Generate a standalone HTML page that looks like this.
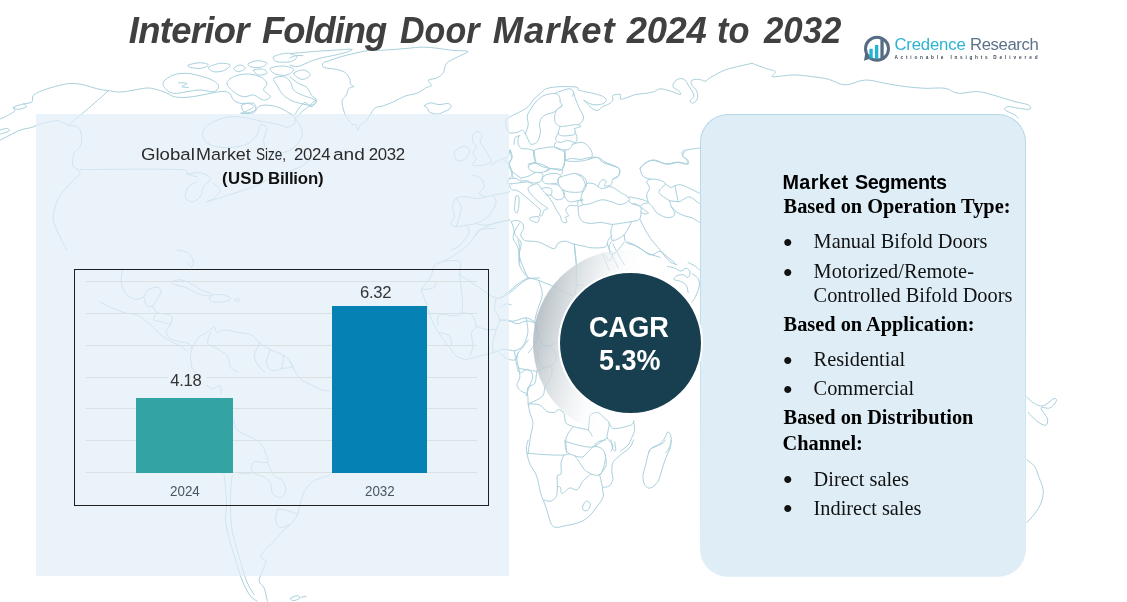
<!DOCTYPE html>
<html lang="en">
<head>
<meta charset="utf-8">
<title>Interior Folding Door Market 2024 to 2032</title>
<style>
html,body{margin:0;padding:0;background:#fff;}
body{width:1127px;height:602px;position:relative;overflow:hidden;font-family:"Liberation Sans",sans-serif;}
h1,h2,h3,p,ul,li{margin:0;padding:0;font-weight:normal;}
.t{position:absolute;white-space:nowrap;margin:0;padding:0;}
.t span{position:absolute;top:0;}
#map{position:absolute;left:0;top:0;width:1127px;height:602px;}
#leftpanel{position:absolute;left:35.6px;top:114.4px;width:473.4px;height:461.4px;background:rgba(226,238,248,0.68);}
#chart{position:absolute;left:74px;top:269px;width:413px;height:235px;border:1px solid #1f1f1f;}
.grid{position:absolute;left:86px;width:391px;height:1px;background:#dbe0e3;}
.bar{position:absolute;}
#v1,#v2{background:#ebf3fa;}
#ring{position:absolute;left:533.2px;top:249.7px;width:186.6px;height:186.6px;border-radius:50%;
  background:linear-gradient(104deg, rgba(160,172,180,.92) 0%, rgba(172,183,190,.9) 7%, rgba(194,202,207,.86) 15%, rgba(214,220,224,.8) 23%, rgba(232,236,238,.7) 31%, rgba(246,248,249,.5) 39%, rgba(255,255,255,0) 48%);}
#disc{position:absolute;left:558.3px;top:271.3px;width:140.4px;height:140px;border-radius:50%;background:#183f50;border:2.4px solid #fff;}
#rightpanel{position:absolute;left:700.3px;top:114px;width:325.5px;height:462.6px;border-radius:28px;background:#deedf6;box-sizing:border-box;border:1px solid transparent;
  background:linear-gradient(#deedf6,#deedf6) padding-box, linear-gradient(180deg,#b4d7e7 0%,#c4e0ec 50%,#e3f0f7 100%) border-box;}
.bul{position:absolute;left:782.4px;font:30px/1 "Liberation Serif",serif;color:#111;}
</style>
</head>
<body>
<svg id="map" viewBox="0 0 1127 602" fill="none" stroke="#a8d0dd" stroke-width="1" stroke-linejoin="round" stroke-linecap="round">
<path d="M0.0 119.1C1.2 118.5 4.8 117.1 7.3 115.7C9.8 114.3 14.0 112.1 15.0 110.7C16.0 109.3 12.1 108.5 13.3 107.4C14.6 106.3 19.6 104.9 22.7 104.1C25.7 103.2 29.9 103.5 31.7 102.1C33.5 100.6 31.5 97.3 33.4 95.4C35.2 93.4 38.4 92.0 42.7 90.4C47.0 88.7 54.6 86.5 59.4 85.4C64.2 84.2 67.6 83.4 71.7 83.4C75.9 83.3 79.9 84.1 84.1 85.0C88.3 85.9 92.7 87.8 96.8 88.7C100.8 89.7 104.4 90.2 108.4 90.7C112.4 91.3 116.5 92.2 120.8 92.0C125.1 91.9 129.8 90.7 134.1 90.0C138.5 89.4 143.1 88.1 146.8 88.0C150.5 87.9 152.9 88.6 156.2 89.4C159.4 90.2 163.2 91.5 166.2 92.7C169.2 93.9 170.8 95.9 174.2 96.7C177.5 97.5 181.8 97.6 186.2 97.4C190.5 97.2 195.6 96.2 200.2 95.4C204.8 94.6 209.5 93.4 213.5 92.7C217.6 92.0 221.4 91.2 224.2 91.4C227.0 91.6 228.7 92.6 230.2 94.0C231.8 95.5 231.8 98.5 233.6 100.1C235.3 101.6 238.4 102.8 240.9 103.4C243.4 103.9 246.5 102.8 248.6 103.4C250.7 103.9 254.1 105.3 253.6 106.7C253.0 108.1 247.4 110.6 245.2 111.7C243.1 112.8 239.5 113.2 240.9 113.4C242.3 113.6 250.6 113.8 253.6 112.7C256.5 111.6 256.4 108.0 258.6 106.7C260.8 105.4 263.6 104.9 266.9 105.1C270.3 105.2 275.0 106.1 278.6 107.4C282.2 108.7 285.8 110.9 288.6 112.7C291.4 114.6 294.5 116.5 295.3 118.4C296.1 120.3 294.9 122.6 293.6 124.1C292.3 125.6 288.6 126.9 287.6 127.4 M0.0 140.1C1.7 139.3 6.7 136.8 10.0 135.1C13.3 133.4 16.4 131.4 20.0 130.1C23.6 128.8 28.4 128.4 31.7 127.4C35.0 126.4 37.0 125.0 40.0 124.1C43.1 123.1 47.0 122.3 50.1 121.7C53.1 121.2 55.3 120.2 58.4 120.7C61.5 121.3 65.1 124.0 68.4 125.1C71.7 126.2 76.2 125.4 78.4 127.4C80.6 129.5 81.5 134.2 81.7 137.4C82.0 140.6 81.4 144.1 80.1 146.8C78.8 149.4 75.3 150.4 74.1 153.4C72.9 156.5 72.0 162.3 72.7 165.1C73.5 167.9 77.2 168.6 78.4 170.1C79.6 171.6 79.8 173.5 80.1 174.1 M108.4 90.7C105.1 93.7 95.1 102.7 88.4 108.4C81.7 114.1 71.7 122.3 68.4 125.1 M0.0 130.1C1.1 129.8 5.1 128.3 6.7 128.4C8.2 128.5 10.0 129.9 9.3 130.7C8.7 131.6 4.2 132.9 2.7 133.4C1.1 134.0 0.4 134.0 0.0 134.1 M13.3 107.4C14.2 107.7 16.1 109.5 18.4 109.4C20.6 109.3 25.9 107.6 26.7 106.7C27.5 105.8 23.9 104.5 23.4 104.1 M80.1 169.5C96.2 169.5 159.0 168.7 176.8 169.5C194.6 170.2 183.5 172.9 186.9 174.1C190.2 175.3 195.2 176.3 196.9 176.8 M80.1 174.1C78.7 175.4 74.8 178.6 71.7 181.8C68.7 185.0 64.5 189.3 61.7 193.5C58.9 197.6 56.4 202.4 55.1 206.8C53.7 211.3 52.8 215.7 53.4 220.2C53.9 224.6 56.7 229.6 58.4 233.5C60.1 237.4 62.0 240.8 63.4 243.5C64.8 246.3 66.2 248.8 66.7 249.9 M186.9 174.1C189.1 173.9 196.3 172.1 200.2 172.8C204.1 173.5 209.7 176.1 210.2 178.5C210.8 180.8 205.2 183.7 203.5 186.8C201.9 189.9 202.1 194.3 200.2 196.8C198.3 199.3 194.4 201.8 191.9 201.8C189.4 201.8 185.7 199.3 185.2 196.8C184.6 194.3 186.6 189.3 188.5 186.8C190.5 184.3 195.5 182.6 196.9 181.8 M213.5 183.5C214.7 184.6 220.2 187.6 220.2 190.1C220.2 192.6 215.8 196.5 213.5 198.5C211.3 200.4 203.5 202.7 206.9 201.8C210.2 201.0 225.8 196.0 233.6 193.5C241.4 191.0 248.0 189.0 253.6 186.8C259.1 184.6 261.9 182.4 266.9 180.1C271.9 177.9 278.1 175.7 283.6 173.5C289.2 171.2 295.9 169.0 300.3 166.8C304.7 164.6 308.6 161.2 310.3 160.1 M287.6 127.4C285.8 126.9 280.9 125.0 276.9 124.1C272.9 123.1 268.3 122.7 263.6 121.7C258.9 120.8 254.1 119.2 248.6 118.4C243.0 117.6 236.1 116.2 230.2 116.7C224.4 117.3 218.0 119.5 213.5 121.7C209.1 124.0 205.1 127.1 203.5 130.1C202.0 133.0 202.5 136.8 204.2 139.4C205.9 142.1 209.2 144.8 213.5 146.1C217.9 147.4 224.7 147.8 230.2 147.4C235.8 147.1 242.5 146.2 246.9 144.1C251.4 142.0 254.7 138.3 256.9 135.1C259.1 131.9 258.6 126.2 260.3 125.1C261.9 124.0 266.4 125.9 266.9 128.4C267.5 130.9 263.6 136.5 263.6 140.1C263.6 143.7 264.7 147.9 266.9 150.1C269.2 152.3 273.1 153.4 276.9 153.4C280.8 153.4 286.4 152.3 290.3 150.1C294.2 147.9 298.4 143.4 300.3 140.1C302.2 136.8 302.8 133.7 302.0 130.1C301.1 126.5 296.4 120.3 295.3 118.4 M295.3 118.4C296.4 117.3 299.5 114.0 302.0 111.7C304.5 109.5 308.1 107.0 310.3 105.1C312.5 103.1 314.5 100.9 315.3 100.1 M163.5 81.7C164.9 79.5 169.6 76.4 173.5 75.0C177.4 73.6 182.4 73.2 186.9 73.4C191.3 73.5 195.8 74.8 200.2 76.0C204.6 77.2 210.5 78.9 213.5 80.7C216.6 82.5 218.6 84.9 218.6 86.7C218.6 88.5 216.6 91.2 213.5 91.7C210.5 92.3 204.6 90.0 200.2 90.0C195.8 90.0 191.3 91.2 186.9 91.7C182.4 92.3 177.1 93.9 173.5 93.4C169.9 92.8 166.8 90.3 165.2 88.4C163.5 86.4 162.1 83.9 163.5 81.7 M178.5 82.7C179.9 82.8 186.3 82.7 186.9 83.4C187.4 84.0 181.6 86.0 181.8 86.7C182.1 87.4 187.4 87.3 188.5 87.4 M226.9 83.4C226.9 80.9 230.2 78.3 233.6 76.7C236.9 75.1 242.5 74.0 246.9 74.0C251.4 74.0 256.9 75.1 260.3 76.7C263.6 78.3 266.4 81.1 266.9 83.4C267.5 85.6 263.0 87.8 263.6 90.0C264.2 92.3 270.3 95.0 270.3 96.7C270.3 98.4 266.4 100.3 263.6 100.1C260.8 99.8 256.9 95.6 253.6 95.0C250.3 94.5 246.9 97.3 243.6 96.7C240.2 96.2 236.3 93.9 233.6 91.7C230.8 89.5 226.9 85.9 226.9 83.4 M188.5 65.0C190.2 64.2 196.9 62.7 200.2 62.7C203.5 62.7 208.5 64.1 208.5 65.0C208.5 66.0 203.3 68.0 200.2 68.4C197.1 68.7 192.1 67.9 190.2 67.4C188.2 66.8 186.9 65.8 188.5 65.0 M208.5 67.4C209.7 66.0 216.6 63.7 220.2 63.3C223.8 63.0 229.7 63.8 230.2 65.0C230.8 66.2 226.3 69.6 223.6 70.7C220.8 71.8 216.0 72.2 213.5 71.7C211.0 71.1 207.4 68.7 208.5 67.4 M233.6 68.4C233.8 67.2 238.3 65.0 240.2 65.0C242.2 65.0 245.5 67.2 245.2 68.4C245.0 69.5 240.5 71.7 238.6 71.7C236.6 71.7 233.3 69.5 233.6 68.4 M248.6 63.3C250.0 62.3 255.5 60.7 258.6 60.7C261.7 60.7 266.7 62.2 266.9 63.3C267.2 64.5 263.0 66.8 260.3 67.4C257.5 67.9 252.2 67.4 250.3 66.7C248.3 66.0 247.2 64.3 248.6 63.3 M253.6 70.0C254.4 69.1 261.4 68.8 263.6 69.4C265.8 69.9 267.8 72.4 266.9 73.4C266.1 74.3 260.8 75.6 258.6 75.0C256.4 74.5 252.8 71.0 253.6 70.0 M273.6 56.7C275.3 55.3 283.1 53.3 287.0 53.3C290.8 53.3 296.4 55.3 297.0 56.7C297.5 58.1 293.6 60.8 290.3 61.7C287.0 62.5 279.7 62.5 276.9 61.7C274.2 60.8 271.9 58.1 273.6 56.7 M270.3 68.4C271.7 67.0 279.7 65.8 283.6 66.0C287.5 66.2 293.1 67.9 293.6 69.4C294.2 70.9 290.0 74.2 287.0 75.0C283.9 75.8 278.1 75.1 275.3 74.0C272.5 72.9 268.9 69.7 270.3 68.4 M241.9 105.1C243.3 103.5 251.4 102.6 253.6 103.4C255.8 104.2 256.6 108.5 255.3 110.1C253.9 111.6 247.5 113.6 245.2 112.7C243.0 111.9 240.5 106.6 241.9 105.1 M273.6 78.4C274.7 77.0 280.8 76.1 283.6 76.7C286.4 77.2 288.6 79.5 290.3 81.7C292.0 83.9 291.7 87.8 293.6 90.0C295.6 92.3 298.4 93.4 302.0 95.0C305.6 96.7 313.6 98.4 315.3 100.1C317.0 101.7 314.5 104.5 312.0 105.1C309.5 105.6 303.9 104.2 300.3 103.4C296.7 102.6 293.3 101.7 290.3 100.1C287.2 98.4 284.2 95.9 281.9 93.4C279.7 90.9 278.3 87.5 276.9 85.0C275.6 82.5 272.5 79.8 273.6 78.4 M293.6 73.4C293.9 71.8 300.9 69.7 303.6 70.0C306.4 70.3 310.6 73.5 310.3 75.0C310.0 76.6 304.7 79.6 302.0 79.4C299.2 79.1 293.3 74.9 293.6 73.4 M472.8 135.1C473.6 133.4 476.2 131.7 477.8 131.7C479.3 131.7 481.7 133.4 482.1 135.1C482.5 136.8 479.7 139.5 480.1 141.8C480.5 144.0 482.9 145.9 484.4 148.4C486.0 150.9 488.3 154.5 489.4 156.8C490.6 159.0 492.2 160.4 491.1 161.8C490.0 163.2 485.8 164.6 482.8 165.1C479.7 165.7 473.9 166.2 472.8 165.1C471.7 164.0 476.1 160.4 476.1 158.4C476.1 156.5 472.8 155.4 472.8 153.4C472.8 151.5 476.1 148.7 476.1 146.8C476.1 144.8 473.3 143.7 472.8 141.8C472.2 139.8 471.9 136.8 472.8 135.1 M456.1 150.1C457.6 148.6 461.2 146.1 463.4 146.1C465.6 146.1 469.0 148.0 469.4 150.1C469.9 152.2 468.0 156.7 466.1 158.4C464.1 160.2 459.7 161.3 457.7 160.8C455.8 160.2 454.7 156.9 454.4 155.1C454.1 153.3 454.6 151.6 456.1 150.1 M491.1 165.1C492.5 164.3 496.7 161.5 499.5 160.1C502.2 158.7 506.1 158.4 507.8 156.8C509.5 155.1 509.2 151.2 509.5 150.1 M472.8 175.1C474.2 175.7 479.2 176.5 481.1 178.5C483.1 180.4 484.7 184.3 484.4 186.8C484.2 189.3 479.2 191.8 479.4 193.5C479.7 195.1 483.9 196.5 486.1 196.8C488.3 197.1 490.0 195.7 492.8 195.1C495.6 194.6 500.0 194.0 502.8 193.5C505.6 192.9 508.4 192.1 509.5 191.8 M486.1 196.8C484.4 197.1 479.4 198.5 476.1 198.5C472.8 198.5 469.4 196.8 466.1 196.8C462.8 196.8 458.3 196.8 456.1 198.5C453.9 200.2 453.0 203.8 452.7 206.8C452.5 209.9 454.7 214.1 454.4 216.8C454.1 219.6 450.8 221.8 451.1 223.5C451.4 225.2 453.6 226.6 456.1 226.8C458.6 227.1 462.8 225.7 466.1 225.2C469.4 224.6 472.8 224.6 476.1 223.5C479.4 222.4 483.3 220.7 486.1 218.5C488.9 216.3 491.1 212.9 492.8 210.2C494.5 207.4 496.1 204.3 496.1 201.8C496.1 199.3 493.3 196.3 492.8 195.1 M456.1 198.5C456.9 199.9 460.5 203.8 461.1 206.8C461.6 209.9 460.3 213.5 459.4 216.8C458.6 220.2 456.6 225.2 456.1 226.8 M466.1 225.2C466.6 226.3 469.7 229.3 469.4 231.8C469.1 234.4 466.4 237.7 464.4 240.2C462.5 242.7 460.0 245.3 457.7 246.9C455.5 248.5 452.2 249.4 451.1 249.9 M476.1 223.5C477.8 223.8 482.2 225.5 486.1 225.2C490.0 224.9 495.6 222.7 499.5 221.8C503.3 221.0 507.8 220.4 509.5 220.2 M505.6 119.8C506.6 119.2 508.8 117.5 511.3 116.1C513.8 114.7 517.9 113.0 520.7 111.4C523.5 109.8 526.2 108.6 528.2 106.7C530.3 104.8 530.9 102.3 532.9 100.1C535.0 97.9 538.2 95.4 540.4 93.5C542.6 91.6 543.4 89.9 546.1 88.8C548.8 87.7 553.1 87.3 556.4 86.9C559.7 86.6 562.4 86.5 565.8 86.6C569.3 86.6 575.1 86.8 577.1 87.3C579.2 87.8 576.8 89.0 578.1 89.8C579.3 90.5 582.0 91.0 584.7 91.6C587.3 92.3 591.1 92.7 594.1 93.5C597.0 94.3 600.5 95.2 602.5 96.3C604.6 97.4 606.3 98.8 606.3 100.1C606.3 101.4 604.6 103.1 602.5 103.9C600.5 104.6 596.4 105.0 594.1 104.8C591.7 104.6 590.1 103.7 588.4 102.9C586.7 102.1 583.7 99.8 583.7 100.1C583.7 100.4 587.0 103.4 588.4 104.8C589.8 106.2 590.6 107.6 592.2 108.6C593.7 109.5 596.1 110.8 597.8 110.4C599.5 110.1 600.6 107.8 602.5 106.7C604.4 105.6 607.4 105.0 609.1 103.9C610.8 102.8 612.2 101.5 612.9 100.1C613.5 98.7 611.6 96.3 612.9 95.4C614.1 94.5 619.1 93.8 620.4 94.5C621.6 95.1 619.1 98.7 620.4 99.2C621.6 99.6 625.4 98.1 627.9 97.3C630.4 96.5 632.6 95.1 635.4 94.5C638.3 93.8 641.7 94.0 644.8 93.5C648.0 93.0 651.7 92.4 654.3 91.6C656.8 90.8 657.4 89.0 659.9 88.8C662.4 88.7 666.5 89.9 669.3 90.7C672.1 91.5 674.9 92.9 676.8 93.5C678.7 94.1 680.3 94.9 680.6 94.5C680.9 94.0 680.0 91.9 678.7 90.7C677.5 89.4 673.7 88.5 673.1 86.9C672.4 85.4 673.7 82.7 674.9 81.3C676.2 79.9 678.9 78.6 680.6 78.5C682.3 78.3 684.0 79.2 685.3 80.3C686.5 81.4 687.0 83.3 688.1 85.0C689.2 86.8 690.9 88.8 691.9 90.7C692.8 92.6 694.1 94.6 693.8 96.3C693.4 98.1 690.0 99.9 690.0 101.0C690.0 102.1 692.5 103.4 693.8 102.9C695.0 102.4 697.0 100.3 697.5 98.2C698.0 96.2 697.5 92.9 696.6 90.7C695.6 88.5 692.7 86.8 691.9 85.0C691.1 83.3 690.6 81.3 691.9 80.3C693.1 79.4 697.2 79.2 699.4 79.4C701.6 79.6 703.5 81.4 705.0 81.3C706.6 81.1 707.6 79.2 708.8 78.5C710.0 77.7 711.5 76.9 712.0 76.6 M505.6 119.8C505.8 121.3 505.8 126.1 506.6 128.3C507.4 130.5 508.5 132.4 510.3 133.0C512.2 133.6 515.8 132.5 517.9 132.1C519.9 131.6 521.3 129.9 522.6 130.2C523.8 130.5 524.5 132.4 525.4 134.0C526.3 135.5 527.3 137.9 528.2 139.6C529.2 141.3 529.6 143.8 531.0 144.3C532.4 144.8 535.3 143.7 536.7 142.4C538.1 141.2 538.9 138.8 539.5 136.8C540.1 134.7 540.4 132.2 540.4 130.2C540.4 128.2 539.3 126.6 539.5 124.6C539.7 122.5 540.1 119.7 541.4 118.0C542.6 116.2 545.0 115.1 547.0 114.2C549.1 113.3 551.7 113.3 553.6 112.3C555.5 111.4 556.9 109.7 558.3 108.6C559.7 107.5 561.8 106.8 562.1 105.7C562.4 104.6 560.5 102.6 560.2 102.0 M562.1 105.7C561.1 106.5 557.7 108.6 556.4 110.4C555.2 112.3 554.7 115.0 554.6 117.0C554.4 119.1 554.6 121.1 555.5 122.7C556.4 124.2 557.8 126.0 560.2 126.4C562.5 126.9 566.8 125.8 569.6 125.5C572.4 125.2 575.2 124.4 577.1 124.6C579.0 124.7 581.2 125.8 580.9 126.4C580.6 127.1 576.2 128.0 575.2 128.3 M525.4 134.0C525.9 132.4 527.9 127.5 528.2 124.6C528.5 121.6 526.8 118.8 527.3 116.1C527.7 113.4 529.5 111.1 531.0 108.6C532.6 106.1 534.5 103.2 536.7 101.0C538.9 98.8 541.2 96.6 544.2 95.4C547.2 94.1 552.0 93.4 554.6 93.5C557.1 93.7 558.3 94.9 559.3 96.3C560.2 97.7 560.0 101.0 560.2 102.0 M554.6 93.5C555.8 93.0 559.6 91.5 562.1 90.7C564.6 89.9 567.7 88.7 569.6 88.8C571.5 89.0 572.9 90.4 573.4 91.6C573.8 92.9 572.6 95.6 572.4 96.3 M573.4 91.6C573.7 92.7 574.3 95.6 575.2 98.2C576.2 100.9 577.6 104.3 579.0 107.6C580.4 110.9 583.7 115.1 583.7 118.0C583.7 120.8 579.8 123.5 579.0 124.6 M560.2 126.4C559.9 127.5 558.0 131.4 558.3 133.0C558.6 134.6 559.6 135.5 562.1 135.8C564.6 136.2 571.2 135.5 573.4 134.9C575.6 134.3 575.1 133.2 575.2 132.1C575.4 131.0 574.5 128.9 574.3 128.3 M558.3 133.0C557.8 134.1 555.2 138.0 555.5 139.6C555.8 141.2 558.2 142.3 560.2 142.4C562.2 142.6 565.2 140.5 567.7 140.5C570.2 140.5 573.7 142.9 575.2 142.4C576.8 142.0 577.1 139.4 577.1 137.7C577.1 136.0 575.6 133.0 575.2 132.1 M555.5 142.4C555.3 143.2 553.5 145.9 554.6 147.1C555.6 148.4 559.6 149.6 562.1 149.9C564.6 150.3 567.9 149.9 569.6 149.0C571.3 148.1 572.0 145.1 572.4 144.3 M572.4 144.3C574.1 144.0 579.8 141.6 582.8 142.4C585.7 143.2 588.7 146.8 590.3 149.0C591.9 151.2 592.5 153.9 592.2 155.6C591.9 157.3 590.6 158.4 588.4 159.4C586.2 160.3 582.8 161.1 579.0 161.2C575.2 161.4 568.2 161.9 565.8 160.3C563.5 158.7 565.1 153.2 564.9 151.8 M533.9 150.9C535.1 148.5 539.8 148.7 543.3 148.1C546.7 147.4 551.1 146.5 554.6 147.1C558.0 147.8 562.2 149.6 564.0 151.8C565.7 154.0 565.2 157.3 564.9 160.3C564.6 163.3 564.1 168.3 562.1 169.7C560.0 171.1 555.8 169.2 552.7 168.8C549.5 168.3 546.1 168.0 543.3 166.9C540.4 165.8 537.3 164.8 535.7 162.2C534.2 159.5 532.6 153.2 533.9 150.9 M588.4 159.4C590.0 159.0 595.0 157.0 597.8 157.5C600.6 157.9 602.5 160.8 605.3 162.2C608.2 163.6 612.4 164.7 614.7 165.9C617.1 167.2 618.8 168.0 619.5 169.7C620.1 171.4 619.6 174.7 618.5 176.3C617.4 177.9 613.8 178.6 612.9 179.1 M640.1 167.8C641.6 166.7 645.9 162.5 648.6 161.2C651.3 160.0 653.3 159.8 656.1 160.3C659.0 160.8 662.1 163.7 665.5 164.1C669.0 164.4 673.4 162.2 676.8 162.2C680.3 162.2 684.3 164.4 686.2 164.1C688.1 163.7 688.6 161.5 688.1 160.3C687.6 159.0 684.2 158.1 683.4 156.5C682.6 155.0 680.7 152.3 683.4 150.9C686.1 149.5 696.7 148.5 699.4 148.1 M518.8 135.8C518.7 136.9 517.6 140.4 517.9 142.4C518.2 144.5 519.0 147.0 520.7 148.1C522.4 149.2 526.0 148.5 528.2 149.0C530.4 149.5 532.9 150.6 533.9 150.9 M514.1 144.3C514.3 143.2 514.1 139.1 515.0 137.7C516.0 136.3 519.0 136.2 519.8 135.8 M510.3 150.9C510.5 152.1 511.6 156.2 511.3 158.4C511.0 160.6 508.5 161.9 508.5 164.1C508.5 166.3 510.5 169.2 511.3 171.6C512.1 173.9 512.9 177.1 513.2 178.2 M528.2 164.1 L535.7 162.2 M504.7 160.3 L508.5 164.1 M582.8 191.4C583.7 188.7 584.7 185.1 586.5 183.9C588.4 182.6 591.5 183.1 594.1 183.9C596.6 184.6 598.8 188.1 601.6 188.6C604.4 189.0 607.9 186.1 611.0 186.7C614.1 187.3 617.6 190.6 620.4 192.3C623.2 194.0 626.5 195.6 627.9 197.0C629.3 198.4 630.1 199.5 628.9 200.8C627.6 202.0 623.4 204.4 620.4 204.6C617.4 204.7 614.1 202.5 611.0 201.7C607.9 200.9 605.0 199.5 601.6 199.8C598.1 200.2 593.3 202.8 590.3 203.6C587.3 204.4 585.3 205.2 583.7 204.6C582.1 203.9 581.0 202.0 580.9 199.8C580.7 197.7 581.8 194.0 582.8 191.4 M578.1 206.4 L583.7 204.6 M628.9 200.8C629.3 201.3 629.8 202.7 631.7 203.6C633.6 204.6 638.6 205.0 640.1 206.4C641.7 207.8 641.2 209.9 641.1 212.1C640.9 214.3 640.8 218.0 639.2 219.6C637.6 221.2 634.8 220.9 631.7 221.5C628.5 222.1 623.8 222.9 620.4 223.4C616.9 223.8 614.1 224.5 611.0 224.3C607.9 224.1 605.0 222.6 601.6 222.4C598.1 222.3 593.4 223.5 590.3 223.4C587.2 223.2 584.7 222.7 582.8 221.5C580.9 220.2 579.8 218.3 579.0 215.8C578.2 213.3 578.2 208.0 578.1 206.4 M628.9 197.0C630.0 197.2 633.1 197.5 635.4 198.0C637.8 198.4 640.8 199.1 643.0 199.8C645.2 200.6 648.5 202.0 648.6 202.7C648.8 203.3 645.3 203.0 643.9 203.6C642.5 204.2 640.8 206.0 640.1 206.4 M631.7 203.6C632.6 203.8 635.1 203.5 637.3 204.6C639.5 205.6 643.0 208.8 644.8 210.2C646.7 211.6 648.6 212.4 648.6 213.0C648.6 213.6 646.1 214.1 644.8 214.0C643.6 213.8 641.7 212.4 641.1 212.1 M648.6 202.7C647.7 200.8 646.6 197.7 646.7 195.1C646.9 192.6 649.5 189.8 649.5 187.6C649.5 185.4 646.6 183.4 646.7 182.0C646.9 180.6 648.3 179.5 650.5 179.2C652.7 178.8 657.4 179.3 659.9 180.1C662.4 180.9 665.2 182.6 665.5 183.9C665.9 185.1 662.9 186.2 661.8 187.6C660.7 189.0 658.6 190.8 659.0 192.3C659.3 193.9 661.9 195.6 663.7 197.0C665.4 198.4 668.0 199.2 669.3 200.8C670.6 202.4 670.2 204.2 671.2 206.4C672.1 208.6 675.3 212.1 674.9 214.0C674.6 215.8 671.5 217.4 669.3 217.7C667.1 218.0 664.0 216.8 661.8 215.8C659.6 214.9 657.7 213.6 656.1 212.1C654.6 210.5 653.6 208.0 652.4 206.4C651.1 204.9 649.5 204.6 648.6 202.7 M640.1 168.8C640.9 167.9 642.8 164.6 644.8 163.2C646.9 161.8 649.9 160.5 652.4 160.3C654.9 160.2 657.1 161.6 659.9 162.2C662.7 162.9 666.2 164.1 669.3 164.1C672.4 164.1 675.6 162.2 678.7 162.2C681.8 162.2 686.9 164.6 688.1 164.1C689.4 163.6 687.2 160.8 686.2 159.4C685.3 158.0 682.6 157.1 682.5 155.6C682.3 154.2 684.8 151.7 685.3 150.9 M640.1 168.8C640.6 170.1 641.2 174.6 643.0 176.3C644.7 178.1 649.2 178.7 650.5 179.2 M665.5 183.9C666.5 184.5 669.6 187.3 671.2 187.6C672.7 187.9 673.4 186.2 674.9 185.7C676.5 185.3 678.4 184.5 680.6 184.8C682.8 185.1 685.0 186.2 688.1 187.6C691.2 189.0 697.5 192.3 699.4 193.3 M674.9 185.7C675.3 187.3 676.2 192.5 676.8 195.1C677.5 197.8 677.5 201.1 678.7 201.7C680.0 202.4 682.5 199.7 684.3 198.9C686.2 198.1 687.5 196.2 690.0 197.0C692.5 197.8 697.8 202.5 699.4 203.6 M669.3 200.8 L678.7 201.7 M671.2 206.4C672.1 207.4 674.6 210.5 676.8 212.1C679.0 213.6 681.8 214.9 684.3 215.8C686.9 216.8 689.4 216.6 691.9 217.7C694.4 218.8 698.1 221.6 699.4 222.4 M640.1 219.6C640.9 221.2 643.1 225.9 644.8 229.0C646.6 232.1 648.0 235.0 650.5 238.4C653.0 241.9 657.4 246.9 659.9 249.7C662.4 252.5 663.0 253.1 665.5 255.3C668.0 257.5 673.4 261.6 674.9 262.9 M631.7 221.5C630.4 223.7 627.3 231.5 624.2 234.7C621.0 237.8 615.1 240.9 612.9 240.3C610.7 239.7 611.0 233.6 611.0 230.9C611.0 228.2 612.6 225.4 612.9 224.3 M624.2 234.7C624.5 235.9 624.2 240.3 626.0 242.2C627.9 244.1 631.7 244.1 635.4 245.9C639.2 247.8 644.5 251.6 648.6 253.5C652.7 255.3 658.0 256.6 659.9 257.2 M612.9 240.3C612.2 241.2 609.4 243.6 609.1 245.9C608.8 248.3 609.7 253.5 611.0 254.4C612.2 255.3 614.4 253.6 616.6 251.6C618.8 249.5 622.9 243.7 624.2 242.2 M511.3 221.5C512.2 221.3 515.0 220.2 516.9 220.5C518.8 220.9 521.5 222.0 522.6 223.4C523.7 224.8 523.8 227.1 523.5 229.0C523.2 230.9 520.5 232.8 520.7 234.7C520.8 236.5 522.6 239.2 524.5 240.3C526.3 241.4 529.5 240.9 532.0 241.2C534.5 241.5 537.0 241.4 539.5 242.2C542.0 243.0 544.5 244.8 547.0 245.9C549.5 247.0 552.7 249.2 554.6 248.8C556.4 248.3 556.4 244.4 558.3 243.1C560.2 241.9 563.3 241.1 565.8 241.2C568.3 241.4 570.5 243.3 573.4 244.1C576.2 244.8 579.6 245.3 582.8 245.9C585.9 246.6 588.4 247.7 592.2 247.8C595.9 248.0 602.7 248.1 605.3 246.9C608.0 245.6 607.1 242.2 608.2 240.3C609.3 238.4 611.3 236.4 611.9 235.6 M511.3 221.5C511.8 223.0 513.8 228.1 514.1 230.9C514.4 233.7 512.5 235.6 513.2 238.4C513.8 241.2 516.8 243.7 517.9 247.8C519.0 251.9 519.4 260.4 519.8 262.9 M574.3 244.1C574.5 245.9 574.9 252.2 575.2 255.3C575.6 258.5 576.0 261.6 576.2 262.9 M511.3 183.9C512.5 183.7 516.0 183.2 518.8 182.9C521.6 182.6 525.9 181.7 528.2 182.0C530.6 182.3 532.9 183.9 532.9 184.8C532.9 185.7 528.7 186.2 528.2 187.6C527.7 189.0 528.5 191.1 530.1 193.3C531.7 195.5 535.1 198.6 537.6 200.8C540.1 203.0 543.4 205.2 545.1 206.4C546.9 207.7 548.1 207.7 548.0 208.3C547.8 208.9 545.1 209.1 544.2 210.2C543.3 211.3 543.1 214.0 542.3 214.9C541.5 215.8 539.8 216.6 539.5 215.8C539.2 215.1 541.1 211.9 540.4 210.2C539.8 208.5 537.8 207.4 535.7 205.5C533.7 203.6 530.4 200.8 528.2 198.9C526.0 197.0 524.5 195.6 522.6 194.2C520.7 192.8 518.8 191.2 516.9 190.4C515.0 189.7 512.5 190.4 511.3 189.5C510.0 188.6 509.7 185.6 509.4 184.8 M516.0 196.1C516.6 195.1 518.3 195.3 518.8 197.0C519.3 198.8 519.1 203.8 518.8 206.4C518.5 209.1 517.6 212.4 516.9 213.0C516.2 213.6 515.0 211.9 514.7 210.2C514.4 208.5 514.8 205.0 515.0 202.7C515.3 200.3 515.4 197.0 516.0 196.1 M530.1 217.7C531.4 217.1 537.3 216.0 538.6 216.8C539.8 217.6 538.9 221.8 537.6 222.4C536.4 223.0 532.3 221.3 531.0 220.5C529.8 219.8 528.8 218.3 530.1 217.7 M532.9 184.8C533.7 184.6 536.4 183.4 537.6 183.9C538.9 184.3 539.0 185.9 540.4 187.6C541.9 189.3 544.4 192.2 546.1 194.2C547.8 196.2 549.5 198.1 550.8 199.8C552.0 201.6 552.7 202.8 553.6 204.6C554.6 206.3 555.3 208.3 556.4 210.2C557.5 212.1 559.3 214.0 560.2 215.8C561.1 217.7 561.0 220.4 562.1 221.5C563.2 222.6 566.2 223.2 566.8 222.4C567.4 221.6 565.5 217.9 565.8 216.8C566.2 215.7 568.7 216.9 568.7 215.8C568.7 214.7 565.7 211.9 565.8 210.2C566.0 208.5 567.7 206.3 569.6 205.5C571.5 204.7 575.7 206.3 577.1 205.5C578.5 204.7 577.1 201.6 578.1 200.8C579.0 200.0 582.0 200.8 582.8 200.8 M541.4 188.6C542.3 188.4 545.3 187.5 547.0 187.6C548.8 187.8 551.1 188.2 551.7 189.5C552.4 190.8 551.7 194.4 550.8 195.1C549.8 195.9 546.9 194.4 546.1 194.2 M551.7 183.9C552.7 184.0 555.6 183.9 557.4 184.8C559.1 185.7 561.0 187.5 562.1 189.5C563.2 191.5 564.6 195.3 564.0 197.0C563.3 198.8 560.0 199.7 558.3 199.8C556.6 200.0 554.9 198.8 553.6 198.0C552.4 197.2 551.3 195.6 550.8 195.1 M558.3 178.2C559.4 176.5 563.0 176.2 565.8 175.4C568.7 174.6 572.4 173.4 575.2 173.5C578.1 173.7 580.9 174.9 582.8 176.3C584.7 177.7 586.1 180.1 586.5 182.0C587.0 183.9 586.2 186.1 585.6 187.6C585.0 189.2 584.8 190.6 582.8 191.4C580.7 192.2 576.5 192.5 573.4 192.3C570.2 192.2 566.3 191.5 564.0 190.4C561.6 189.3 560.2 187.8 559.3 185.7C558.3 183.7 557.2 179.9 558.3 178.2 M564.0 190.4C564.1 191.5 564.0 195.1 564.9 197.0C565.8 198.9 567.6 201.1 569.6 201.7C571.6 202.4 574.9 201.2 577.1 200.8C579.3 200.4 581.8 199.5 582.8 199.3 M542.3 178.2C542.8 176.8 544.7 175.2 547.0 174.5C549.4 173.7 554.1 173.2 556.4 173.5C558.8 173.8 560.8 175.6 561.1 176.3C561.4 177.1 558.9 177.1 558.3 178.2C557.7 179.3 558.6 182.0 557.4 182.9C556.1 183.9 553.0 183.9 550.8 183.9C548.6 183.9 545.6 183.9 544.2 182.9C542.8 182.0 541.9 179.6 542.3 178.2 M520.7 178.2C521.9 177.9 525.7 177.3 528.2 176.3C530.7 175.4 533.4 173.0 535.7 172.6C538.1 172.1 541.2 172.6 542.3 173.5C543.4 174.5 542.8 176.8 542.3 178.2C541.9 179.6 541.2 181.2 539.5 182.0C537.8 182.8 533.9 183.1 532.0 182.9C530.1 182.8 530.1 181.4 528.2 181.0C526.3 180.7 521.9 181.0 520.7 181.0 M528.2 166.0C529.0 164.7 533.2 163.3 535.7 163.2C538.2 163.0 540.9 164.1 543.3 165.0C545.6 166.0 549.5 167.7 549.8 168.8C550.2 169.9 547.2 171.0 545.1 171.6C543.1 172.3 540.0 172.7 537.6 172.6C535.3 172.4 532.6 171.8 531.0 170.7C529.5 169.6 527.4 167.2 528.2 166.0 M545.1 171.6C545.9 171.2 547.0 169.1 549.8 168.8C552.7 168.5 560.2 168.8 562.1 169.8C564.0 170.7 561.3 173.7 561.1 174.5 M533.9 150.0 L535.7 163.2 M564.9 150.0C564.9 151.7 565.4 157.1 564.9 160.3C564.4 163.6 562.5 168.2 562.1 169.8 M564.9 160.3C566.0 160.0 568.8 158.6 571.5 158.5C574.1 158.3 577.9 159.6 580.9 159.4C583.9 159.2 586.5 157.8 589.4 157.5C592.2 157.2 595.6 156.7 597.8 157.5C600.0 158.3 600.0 160.8 602.5 162.2C605.0 163.6 610.0 164.9 612.9 166.0C615.7 167.1 618.5 167.2 619.5 168.8C620.4 170.4 619.6 173.7 618.5 175.4C617.4 177.1 614.1 177.6 612.9 179.2C611.6 180.7 612.4 183.7 611.0 184.8C609.6 185.9 605.2 186.4 604.4 185.7C603.6 185.1 606.8 182.0 606.3 181.0C605.8 180.1 603.0 179.2 601.6 180.1C600.2 181.0 598.4 185.6 597.8 186.7 M577.1 174.5C577.8 174.8 579.8 175.4 580.9 176.3C582.0 177.3 582.9 178.5 583.7 180.1C584.5 181.7 585.3 184.8 585.6 185.7 M510.3 150.0C510.7 151.3 512.4 155.2 512.2 157.5C512.1 159.9 509.4 161.8 509.4 164.1C509.4 166.5 511.9 169.6 512.2 171.6C512.5 173.7 511.9 175.1 511.3 176.3C510.7 177.6 509.1 178.1 508.5 179.2C507.8 180.3 507.1 182.1 507.5 182.9C508.0 183.7 510.7 183.7 511.3 183.9 M512.2 171.6 L520.7 178.2 M508.5 179.2C509.6 179.0 513.0 177.9 515.0 178.2C517.1 178.5 519.8 180.6 520.7 181.0 M517.9 240.0C518.2 241.3 519.6 244.4 519.8 247.5C519.9 250.7 518.7 255.4 518.8 258.8C519.0 262.3 519.1 265.1 520.7 268.2C522.3 271.4 527.0 276.1 528.2 277.6 M528.2 277.6C529.9 278.1 534.2 278.9 538.6 280.4C543.0 282.0 548.9 284.5 554.6 287.0C560.2 289.5 569.0 294.6 572.4 295.5C575.9 296.4 574.8 293.1 575.2 292.7 M528.2 277.6C526.6 278.6 522.3 280.8 518.8 283.3C515.4 285.8 510.7 290.2 507.5 292.7C504.4 295.2 501.3 297.4 500.0 298.3 M574.3 243.8C574.6 246.9 575.9 255.7 576.2 262.6C576.5 269.5 576.3 280.1 576.2 285.1C576.0 290.2 575.4 291.4 575.2 292.7 M576.2 285.1 L582.8 285.1 M607.2 243.8C607.9 245.3 609.7 250.3 611.0 253.2C612.2 256.0 613.5 258.2 614.7 260.7C616.0 263.2 617.9 267.0 618.5 268.2 M605.3 255.0C606.1 256.0 608.8 261.0 610.0 260.7C611.3 260.4 612.4 254.4 612.9 253.2 M602.5 253.2C603.0 254.4 604.2 257.9 605.3 260.7C606.4 263.5 608.5 268.5 609.1 270.1 M612.9 243.8C613.8 245.6 616.6 251.6 618.5 255.0C620.4 258.5 623.2 262.9 624.2 264.5 M627.9 241.9C629.8 242.8 635.4 245.3 639.2 247.5C643.0 249.7 647.0 254.4 650.5 255.0C653.9 255.7 657.4 251.0 659.9 251.3C662.4 251.6 663.7 255.0 665.5 256.9C667.4 258.8 669.3 261.3 671.2 262.6C673.1 263.8 675.9 264.1 676.8 264.5 M667.4 266.3C668.7 266.6 672.7 267.4 674.9 268.2C677.1 269.0 678.7 271.0 680.6 271.0C682.5 271.0 684.7 268.1 686.2 268.2C687.8 268.4 689.7 270.4 690.0 272.0C690.3 273.5 689.2 277.2 688.1 277.6C687.0 278.1 685.3 275.1 683.4 274.8C681.5 274.5 678.4 275.0 676.8 275.7C675.3 276.5 673.4 278.6 674.0 279.5C674.6 280.4 678.5 280.4 680.6 281.4C682.6 282.3 685.0 283.3 686.2 285.1C687.5 287.0 687.8 291.4 688.1 292.7 M688.1 262.6C689.4 263.2 693.8 265.1 695.6 266.3C697.5 267.6 698.8 269.5 699.4 270.1 M691.9 273.9C692.8 274.5 696.3 275.7 697.5 277.6C698.8 279.5 699.7 282.0 699.4 285.1C699.1 288.3 696.9 293.6 695.6 296.4C694.4 299.3 692.5 301.1 691.9 302.1 M500.0 320.9C501.3 320.7 504.7 319.5 507.5 319.9C510.3 320.4 513.8 323.6 516.9 323.7C520.1 323.9 523.4 321.0 526.3 320.9C529.3 320.7 533.4 322.5 534.8 322.8 M538.6 280.4C539.2 282.8 542.5 289.7 542.3 294.6C542.2 299.4 538.9 304.9 537.6 309.6C536.4 314.3 534.8 318.7 534.8 322.8C534.8 326.8 537.8 330.3 537.6 334.1C537.5 337.8 535.4 342.2 533.9 345.3C532.3 348.5 529.2 351.6 528.2 352.9 M500.0 307.7C500.9 307.1 503.8 304.4 505.6 304.0C507.5 303.5 510.3 304.7 511.3 304.9 M528.2 340.0C527.3 341.3 524.3 345.3 522.6 347.5C520.8 349.7 518.8 351.0 517.9 353.2C516.9 355.4 516.8 358.2 516.9 360.7C517.1 363.2 518.3 365.4 518.8 368.2C519.3 371.0 520.1 374.8 519.8 377.6C519.4 380.4 516.8 383.0 516.9 385.1C517.1 387.3 519.0 389.2 520.7 390.8C522.4 392.4 526.0 392.4 527.3 394.6C528.5 396.7 527.7 400.8 528.2 404.0C528.7 407.1 529.3 410.2 530.1 413.4C530.9 416.5 532.8 419.3 532.9 422.8C533.1 426.2 531.7 430.3 531.0 434.1C530.4 437.8 529.6 442.2 529.2 445.3C528.7 448.5 528.4 451.6 528.2 452.9 M500.0 353.2C501.3 354.1 505.0 357.7 507.5 358.8C510.0 359.9 513.3 360.7 515.0 359.8C516.8 358.8 517.4 354.3 517.9 353.2 M518.8 368.2C520.4 368.5 525.2 369.6 528.2 370.1C531.2 370.6 534.2 371.4 536.7 371.0C539.2 370.7 540.6 369.3 543.3 368.2C545.9 367.1 550.5 366.0 552.7 364.5C554.9 362.9 556.1 361.0 556.4 358.8C556.7 356.6 556.1 353.5 554.6 351.3C553.0 349.1 549.5 346.3 547.0 345.6C544.5 345.0 541.1 345.6 539.5 347.5C537.9 349.4 537.5 354.1 537.6 356.9C537.8 359.8 539.5 362.6 540.4 364.5C541.4 366.3 542.8 367.6 543.3 368.2 M536.7 371.0C536.4 373.1 536.2 380.6 534.8 383.3C533.4 385.9 529.5 385.1 528.2 387.0C527.0 388.9 527.4 393.3 527.3 394.6 M543.3 368.2C544.7 368.1 550.5 365.7 551.7 367.3C553.0 368.8 551.9 374.3 550.8 377.6C549.7 380.9 546.6 383.9 545.1 387.0C543.7 390.2 545.1 393.6 542.3 396.4C539.5 399.3 530.6 402.7 528.2 404.0 M528.2 404.0C530.1 404.1 536.4 403.6 539.5 404.9C542.6 406.2 544.5 410.2 547.0 411.5C549.5 412.7 552.7 412.7 554.6 412.4C556.4 412.1 556.7 409.4 558.3 409.6C559.9 409.8 562.7 411.2 564.0 413.4C565.2 415.6 564.3 420.6 565.8 422.8C567.4 425.0 570.9 425.6 573.4 426.5C575.9 427.5 578.4 427.8 580.9 428.4C583.4 429.0 586.5 429.0 588.4 430.3C590.3 431.5 591.5 435.0 592.2 435.9 M588.4 430.3C588.6 428.7 589.0 423.4 589.4 420.9C589.7 418.4 588.9 416.7 590.3 415.2C591.7 413.8 595.3 411.8 597.8 412.4C600.3 413.0 603.5 417.3 605.3 419.0C607.2 420.7 608.6 420.9 609.1 422.8C609.6 424.7 608.5 427.8 608.2 430.3C607.9 432.8 606.4 435.3 607.2 437.8C608.0 440.3 612.2 443.1 612.9 445.3C613.5 447.5 611.3 450.0 611.0 451.0 M609.1 422.8C609.7 423.7 610.7 427.6 612.9 428.4C615.1 429.2 619.1 428.1 622.3 427.5C625.4 426.8 629.8 425.7 631.7 424.7C633.6 423.6 633.2 421.5 633.6 420.9 M633.6 420.9C633.7 422.5 634.8 427.5 634.5 430.3C634.2 433.1 632.8 435.3 631.7 437.8C630.6 440.3 629.8 443.1 627.9 445.3C626.0 447.5 621.6 450.0 620.4 451.0 M573.4 426.5C572.4 427.8 569.0 431.5 567.7 434.1C566.5 436.6 566.0 438.4 565.8 441.6C565.7 444.7 566.6 451.0 566.8 452.9 M565.8 441.6C568.0 442.2 574.9 444.4 579.0 445.3C583.1 446.3 587.5 447.2 590.3 447.2C593.1 447.2 593.1 446.9 595.9 445.3C598.8 443.8 605.3 439.1 607.2 437.8 M667.4 432.2C667.9 432.5 669.6 432.5 670.2 434.1C670.9 435.6 671.5 439.1 671.2 441.6C670.9 444.1 669.3 447.2 668.4 449.1C667.4 451.0 666.0 452.2 665.5 452.9 M667.4 432.2C666.8 433.4 665.2 437.5 663.7 439.7C662.1 441.9 660.2 443.8 658.0 445.3C655.8 446.9 652.1 447.9 650.5 449.1C648.9 450.4 648.9 452.2 648.6 452.9 M528.2 440.0C527.9 441.3 526.5 445.0 526.3 447.5C526.2 450.0 526.6 452.2 527.3 455.0C527.9 457.9 528.7 461.3 530.1 464.5C531.5 467.6 534.3 470.7 535.7 473.9C537.2 477.0 537.8 480.1 538.6 483.3C539.3 486.4 539.7 489.8 540.4 492.7C541.2 495.5 542.3 497.7 543.3 500.2C544.2 502.7 545.1 504.9 546.1 507.7C547.0 510.5 548.0 514.3 548.9 517.1C549.8 519.9 550.5 522.9 551.7 524.7C553.0 526.4 554.1 527.3 556.4 527.5C558.8 527.6 562.7 526.2 565.8 525.6C569.0 525.0 572.4 524.5 575.2 523.7C578.1 522.9 580.3 522.3 582.8 520.9C585.3 519.5 588.1 517.4 590.3 515.2C592.5 513.0 594.1 510.2 595.9 507.7C597.8 505.2 600.3 502.4 601.6 500.2C602.8 498.0 603.3 496.6 603.5 494.6C603.6 492.5 601.6 489.4 602.5 488.0C603.5 486.6 607.4 487.5 609.1 486.1C610.8 484.7 612.4 481.9 612.9 479.5C613.3 477.2 611.9 474.8 611.9 472.0C611.9 469.2 611.5 465.4 612.9 462.6C614.3 459.8 617.6 457.6 620.4 455.0C623.2 452.5 627.6 450.0 629.8 447.5C632.0 445.0 632.9 441.3 633.6 440.0 M527.3 453.2C529.0 453.3 533.4 453.8 537.6 454.1C541.9 454.4 548.3 454.9 552.7 455.0C557.1 455.2 561.1 455.2 564.0 455.0C566.8 454.9 567.7 454.0 569.6 454.1C571.5 454.3 574.3 455.7 575.2 456.0 M564.9 440.0C565.1 441.6 565.1 447.1 565.8 449.4C566.6 451.8 569.0 453.3 569.6 454.1 M564.0 455.0C563.5 456.3 561.6 459.4 561.1 462.6C560.7 465.7 561.8 471.7 561.1 473.9C560.5 476.1 558.0 473.5 557.4 475.7C556.7 477.9 557.5 483.6 557.4 487.0C557.2 490.5 557.5 494.1 556.4 496.4C555.3 498.8 552.8 500.5 550.8 501.1C548.8 501.8 545.3 500.4 544.2 500.2 M575.2 456.0C576.2 457.4 579.2 461.9 580.9 464.5C582.6 467.0 584.0 469.5 585.6 471.0C587.2 472.6 590.8 472.1 590.3 473.9C589.8 475.6 585.0 478.7 582.8 481.4C580.6 484.0 579.3 488.8 577.1 489.8C574.9 490.9 572.1 487.3 569.6 488.0C567.1 488.6 563.6 493.8 562.1 493.6C560.5 493.5 561.0 488.1 560.2 487.0C559.4 485.9 557.8 487.0 557.4 487.0 M575.2 456.0C576.5 456.1 580.6 457.7 582.8 456.9C585.0 456.1 586.5 453.0 588.4 451.3C590.3 449.6 591.9 447.1 594.1 446.6C596.3 446.1 599.7 447.1 601.6 448.5C603.5 449.9 604.9 452.4 605.3 455.0C605.8 457.7 605.3 461.2 604.4 464.5C603.5 467.7 602.1 473.2 599.7 474.8C597.3 476.4 591.9 474.0 590.3 473.9 M599.7 474.8C600.0 476.2 601.1 481.1 601.6 483.3C602.1 485.5 602.4 487.2 602.5 488.0 M605.3 455.0C605.5 456.6 606.6 461.9 606.3 464.5C606.0 467.0 604.6 468.4 603.5 470.1C602.4 471.8 600.3 474.0 599.7 474.8 M594.1 446.6C594.7 445.8 595.9 443.0 597.8 441.9C599.7 440.8 604.1 440.3 605.3 440.0 M611.0 440.0C611.3 441.6 612.1 447.7 612.9 449.4C613.7 451.1 615.4 451.6 615.7 450.3C616.0 449.1 614.9 443.3 614.7 441.9 M582.8 505.8C583.2 504.3 585.3 501.4 586.5 501.1C587.8 500.8 590.0 502.5 590.3 504.0C590.6 505.4 589.5 508.5 588.4 509.6C587.3 510.7 584.7 511.2 583.7 510.5C582.8 509.9 582.3 507.4 582.8 505.8 M671.2 440.0C671.0 441.3 671.2 444.4 670.2 447.5C669.3 450.7 666.9 455.0 665.5 458.8C664.1 462.6 663.0 466.3 661.8 470.1C660.5 473.9 659.9 478.4 658.0 481.4C656.1 484.4 652.7 487.3 650.5 488.0C648.3 488.6 646.1 487.2 644.8 485.1C643.6 483.1 642.8 479.2 643.0 475.7C643.1 472.3 644.8 468.2 645.8 464.5C646.7 460.7 647.5 456.0 648.6 453.2C649.7 450.3 650.2 449.1 652.4 447.5C654.6 446.0 659.6 445.0 661.8 443.8C664.0 442.5 664.9 440.6 665.5 440.0 M752.0 63.3C754.2 64.1 761.4 66.9 765.3 68.3C769.2 69.7 774.2 70.2 775.3 71.6C776.4 73.0 770.9 75.9 772.0 76.6C773.1 77.3 778.1 76.2 782.0 76.0C785.8 75.7 790.3 74.8 795.3 75.0C800.3 75.1 806.4 75.9 811.9 76.6C817.4 77.3 823.0 77.9 828.5 79.3C834.1 80.7 839.1 84.8 845.2 84.9C851.3 85.1 858.5 80.2 865.1 80.0C871.8 79.7 878.5 82.2 885.1 83.3C891.8 84.4 898.4 85.8 905.1 86.6C911.7 87.4 918.4 88.0 925.0 88.3C931.7 88.5 939.5 87.4 945.0 88.3C950.6 89.1 952.8 92.7 958.3 93.3C963.9 93.8 971.6 91.0 978.3 91.6C984.9 92.2 992.2 94.9 998.3 96.6C1004.4 98.3 1009.9 100.2 1014.9 101.6C1019.9 103.0 1025.7 103.6 1028.2 104.9C1030.7 106.2 1031.5 108.7 1029.9 109.2C1028.2 109.8 1021.8 108.7 1018.2 108.2C1014.6 107.8 1010.5 106.3 1008.2 106.6C1006.0 106.8 1003.8 108.5 1004.9 109.9C1006.0 111.3 1012.7 113.5 1014.9 114.9C1017.1 116.3 1017.7 117.7 1018.2 118.2 M712.0 76.6C714.2 75.5 720.3 71.8 725.0 70.0C729.7 68.2 735.5 67.1 740.0 66.0C744.5 64.9 750.0 63.8 752.0 63.3 M1026.8 397.2C1028.1 398.3 1031.8 402.2 1034.6 403.7C1037.3 405.1 1040.0 406.7 1043.2 405.8C1046.4 405.0 1051.8 399.2 1054.0 398.5C1056.2 397.8 1056.9 399.9 1056.2 401.5C1055.4 403.1 1052.2 406.9 1049.7 408.0C1047.2 409.1 1041.4 406.2 1041.0 408.0C1040.7 409.8 1046.8 415.9 1047.5 418.8C1048.2 421.7 1047.2 424.9 1045.4 425.3C1043.6 425.6 1039.6 423.1 1036.7 421.0C1033.8 418.8 1029.5 413.8 1028.1 412.3 M1026.8 459.8C1028.1 460.9 1032.5 463.4 1034.6 466.3C1036.6 469.2 1037.4 473.1 1038.9 477.1C1040.3 481.1 1042.8 485.7 1043.2 490.1C1043.6 494.4 1042.5 499.1 1041.0 503.0C1039.6 507.0 1036.9 510.6 1034.6 513.8C1032.2 517.1 1028.1 521.0 1026.8 522.5 M122.6 268.6C122.4 270.8 120.8 277.9 121.3 281.9C121.7 285.9 123.1 289.7 125.3 292.6C127.5 295.5 131.5 298.6 134.6 299.2C137.7 299.9 141.7 298.1 143.9 296.6C146.1 295.0 145.7 291.5 147.9 289.9C150.1 288.4 155.0 287.0 157.2 287.3C159.4 287.5 161.2 289.3 161.2 291.3C161.2 293.3 158.6 296.8 157.2 299.2C155.9 301.7 153.2 303.7 153.2 305.9C153.2 308.1 155.2 311.2 157.2 312.5C159.2 313.9 162.8 313.2 165.2 313.9C167.7 314.5 171.0 314.8 171.9 316.5C172.8 318.3 171.4 322.3 170.5 324.5C169.6 326.7 166.8 327.6 166.5 329.9C166.3 332.1 167.0 335.8 169.2 337.8C171.4 339.8 176.7 340.9 179.9 341.8C183.0 342.7 185.8 342.1 187.8 343.2C189.8 344.3 191.4 346.3 191.8 348.5C192.3 350.7 190.5 353.4 190.5 356.5C190.5 359.6 191.6 365.3 191.8 367.1 M100.0 301.9C101.8 302.8 106.7 305.5 110.6 307.2C114.6 309.0 119.5 311.2 124.0 312.5C128.4 313.9 133.7 313.9 137.3 315.2C140.8 316.5 142.6 318.5 145.2 320.5C147.9 322.5 150.6 324.7 153.2 327.2C155.9 329.6 158.1 332.7 161.2 335.2C164.3 337.6 168.3 339.8 171.9 341.8C175.4 343.8 179.9 345.4 182.5 347.2C185.2 348.9 186.9 351.6 187.8 352.5 M177.2 250.0C179.0 250.4 185.2 250.9 187.8 252.7C190.5 254.4 192.5 258.2 193.2 260.6C193.8 263.1 192.7 266.9 191.8 267.3C190.9 267.7 188.5 264.0 187.8 263.3 M171.9 281.9C172.5 281.1 176.7 279.6 179.9 279.8C183.0 280.0 186.9 281.6 190.5 283.3C194.0 285.0 197.6 288.2 201.1 289.9C204.7 291.7 210.9 292.9 211.8 293.9C212.7 294.9 209.1 296.0 206.5 295.8C203.8 295.6 199.4 294.0 195.8 292.6C192.3 291.2 188.5 288.5 185.2 287.3C181.8 286.0 178.1 286.0 175.9 285.1C173.6 284.2 171.2 282.8 171.9 281.9 M209.1 297.9C209.4 296.7 211.8 295.2 214.5 294.7C217.1 294.3 222.4 294.5 225.1 295.2C227.8 296.0 230.9 298.1 230.4 299.2C230.0 300.4 225.3 301.5 222.4 301.9C219.6 302.3 215.3 302.6 213.1 301.9C210.9 301.2 208.9 299.1 209.1 297.9 M234.4 299.2C234.6 298.8 239.1 298.8 239.7 299.2C240.4 299.7 239.3 301.9 238.4 301.9C237.5 301.9 234.2 299.7 234.4 299.2 M191.8 348.5C192.9 346.7 196.0 340.5 198.5 337.8C200.9 335.2 203.8 334.3 206.5 332.5C209.1 330.7 212.7 327.2 214.5 327.2C216.2 327.2 215.3 332.1 217.1 332.5C218.9 333.0 221.6 329.9 225.1 329.9C228.6 329.9 234.0 331.6 238.4 332.5C242.8 333.4 248.2 333.4 251.7 335.2C255.3 336.9 256.6 340.7 259.7 343.2C262.8 345.6 266.4 347.8 270.3 349.8C274.3 351.8 280.3 353.1 283.7 355.1C287.0 357.1 288.3 358.9 290.3 361.8C292.3 364.7 293.6 369.3 295.6 372.4C297.6 375.5 299.4 378.2 302.3 380.4C305.2 382.6 309.8 384.2 312.9 385.7C316.0 387.3 318.3 388.9 320.9 389.7C323.6 390.6 327.6 390.8 328.9 391.1 M210.5 332.5C210.0 334.3 206.7 340.5 207.8 343.2C208.9 345.8 213.8 346.3 217.1 348.5C220.4 350.7 225.5 353.4 227.8 356.5C230.0 359.6 228.6 364.5 230.4 367.1C232.2 369.8 237.1 371.6 238.4 372.4 M259.7 343.2C258.8 345.4 254.4 352.5 254.4 356.5C254.4 360.5 257.9 364.5 259.7 367.1C261.5 369.8 264.1 371.6 265.0 372.4 M270.3 349.8C269.7 351.8 266.4 358.5 266.4 361.8C266.4 365.1 267.9 368.7 270.3 369.8C272.8 370.9 278.8 370.9 281.0 368.4C283.2 366.0 283.2 357.4 283.7 355.1 M281.0 368.4C282.8 368.2 290.1 368.2 291.6 367.1C293.2 366.0 290.5 362.7 290.3 361.8 M191.8 367.1C193.4 369.3 197.8 376.9 201.1 380.4C204.5 384.0 208.7 387.5 211.8 388.4C214.9 389.3 218.2 384.9 219.8 385.7C221.3 386.6 220.9 392.4 221.1 393.7 M143.9 296.6C144.4 298.1 145.0 304.3 146.6 305.9C148.1 307.4 152.1 305.9 153.2 305.9 M157.2 312.5C156.6 313.7 152.6 317.7 153.2 319.2C153.9 320.8 158.3 321.0 161.2 321.9C164.1 322.8 169.0 324.1 170.5 324.5 M223.8 472.1C224.1 474.7 225.1 481.9 225.5 487.2C226.0 492.6 226.5 498.4 226.5 504.0C226.5 509.6 225.1 515.2 225.5 520.8C225.9 526.4 227.5 532.0 228.9 537.6C230.3 543.2 232.2 548.8 233.9 554.4C235.6 560.0 237.2 566.1 238.9 571.1C240.6 576.2 242.0 580.4 244.0 584.6C245.9 588.8 248.4 593.5 250.7 596.3C252.9 599.1 256.3 600.5 257.4 601.3 M232.2 475.5C231.9 478.6 230.8 488.1 230.5 494.0C230.3 499.8 230.3 504.6 230.5 510.7C230.8 516.9 231.2 524.7 232.2 530.9C233.2 537.0 234.9 541.5 236.6 547.7C238.3 553.8 240.5 561.9 242.3 567.8C244.1 573.7 245.4 578.4 247.3 582.9C249.3 587.4 252.9 592.7 254.0 594.6 M329.5 475.5C327.0 476.3 318.3 478.3 314.4 480.5C310.5 482.8 308.3 485.6 306.0 488.9C303.8 492.3 302.4 496.5 301.0 500.7C299.6 504.9 299.3 510.2 297.7 514.1C296.0 518.0 293.7 521.1 290.9 524.2C288.1 527.2 283.7 529.8 280.9 532.6C278.1 535.3 277.0 537.9 274.2 540.9C271.4 544.0 266.3 548.2 264.1 551.0C261.9 553.8 260.5 556.0 260.7 557.7C261.0 559.4 265.5 558.8 265.8 561.1C266.1 563.3 263.5 567.8 262.4 571.1C261.3 574.5 258.8 578.4 259.1 581.2C259.3 584.0 262.7 584.6 264.1 587.9C265.5 591.3 266.9 599.1 267.4 601.3 M233.9 420.1C234.5 421.8 234.5 427.4 237.2 430.2C240.0 433.0 246.8 434.7 250.7 436.9C254.6 439.1 258.2 440.8 260.7 443.6C263.3 446.4 264.7 450.6 265.8 453.7C266.9 456.8 269.4 460.7 267.4 462.1C265.5 463.5 256.5 460.4 254.0 462.1C251.5 463.8 250.7 469.6 252.3 472.1C254.0 474.7 261.0 475.2 264.1 477.2C267.2 479.1 269.4 481.1 270.8 483.9C272.2 486.7 270.8 491.7 272.5 494.0C274.2 496.2 278.6 497.9 280.9 497.3C283.1 496.8 285.6 493.4 285.9 490.6C286.2 487.8 284.5 483.1 282.6 480.5C280.6 478.0 276.7 478.6 274.2 475.5C271.6 472.4 268.6 464.3 267.4 462.1 M277.5 509.1C279.2 509.3 284.2 509.9 287.6 510.7C290.9 511.6 296.0 513.5 297.7 514.1 M277.5 509.1C277.2 511.0 275.3 517.7 275.8 520.8C276.4 523.9 278.4 527.0 280.9 527.5C283.4 528.1 289.3 524.7 290.9 524.2 M233.9 472.1C236.1 472.4 244.2 473.8 247.3 473.8C250.4 473.8 251.5 472.4 252.3 472.1 M290.9 598.0C291.8 597.1 296.3 595.5 297.7 595.6C299.0 595.7 300.2 597.8 299.3 598.7C298.5 599.5 294.0 600.8 292.6 600.7C291.2 600.6 290.1 598.8 290.9 598.0 M301.0 597.3 L306.0 596.3 M509.5 219.9C507.3 220.5 500.7 221.9 496.3 223.2C491.8 224.6 486.6 226.0 483.0 228.2C479.4 230.4 477.5 233.5 474.7 236.5C471.9 239.6 469.7 243.4 466.4 246.5C463.1 249.5 458.6 252.3 454.8 254.8C450.9 257.3 446.5 259.8 443.2 261.4C439.8 263.1 436.8 262.5 434.9 264.7C432.9 266.9 432.9 271.6 431.5 274.7C430.2 277.7 428.2 280.5 426.6 283.0C424.9 285.5 421.9 286.9 421.6 289.6C421.3 292.4 423.8 296.3 424.9 299.6C426.0 302.9 427.1 306.2 428.2 309.5C429.3 312.9 430.2 316.2 431.5 319.5C432.9 322.8 434.6 326.1 436.5 329.5C438.5 332.8 440.9 336.4 443.2 339.4C445.4 342.5 447.6 345.0 449.8 347.7C452.0 350.5 453.7 354.1 456.4 356.0C459.2 358.0 462.5 359.3 466.4 359.3C470.3 359.3 475.2 357.1 479.7 356.0C484.1 354.9 489.1 353.8 492.9 352.7C496.8 351.6 499.3 349.7 502.9 349.4C506.5 349.1 512.6 350.8 514.5 351.0 M474.7 236.5C475.5 235.4 476.1 231.3 479.7 229.9C483.3 228.5 493.5 228.5 496.3 228.2 M443.2 261.4C445.9 261.4 457.0 259.2 459.8 261.4C462.5 263.6 459.5 266.1 459.8 274.7C460.0 283.3 464.7 306.2 461.4 312.9C458.1 319.5 443.7 312.6 439.8 314.5C436.0 316.5 438.5 322.8 438.2 324.5 M421.6 289.6C423.5 289.3 430.7 289.3 433.2 288.0C435.7 286.6 436.0 282.4 436.5 281.3 M459.8 274.7C463.1 276.9 473.6 284.1 479.7 288.0C485.8 291.8 491.3 297.1 496.3 297.9C501.2 298.8 504.6 296.0 509.5 292.9C514.5 289.9 521.2 282.2 526.1 279.7C531.1 277.2 537.2 278.3 539.4 278.0 M496.3 297.9C496.0 299.9 494.1 305.9 494.6 309.5C495.2 313.1 499.3 316.2 499.6 319.5C499.9 322.8 497.4 325.6 496.3 329.5C495.2 333.3 493.5 338.9 492.9 342.7C492.4 346.6 492.9 351.0 492.9 352.7 M461.4 312.9C463.1 313.1 468.9 312.3 471.4 314.5C473.9 316.7 476.3 323.1 476.3 326.1C476.3 329.2 471.9 329.5 471.4 332.8C470.8 336.1 473.3 342.2 473.0 346.1C472.8 349.9 470.3 354.4 469.7 356.0 M476.3 326.1C478.0 326.7 483.0 328.9 486.3 329.5C489.6 330.0 494.6 329.5 496.3 329.5 M439.8 332.8C441.5 333.3 447.9 333.9 449.8 336.1C451.7 338.3 451.2 344.4 451.5 346.1 M499.6 319.5C501.8 319.8 508.4 321.4 512.9 321.2C517.3 320.9 522.3 317.6 526.1 317.8C530.0 318.1 534.4 322.0 536.1 322.8 M519.5 223.2C518.7 224.9 514.2 229.9 514.5 233.2C514.8 236.5 520.3 239.3 521.2 243.2C522.0 247.0 518.4 250.6 519.5 256.4C520.6 262.2 526.4 274.4 527.8 278.0 M526.1 317.8C526.4 320.3 528.4 328.1 527.8 332.8C527.2 337.5 525.0 343.0 522.8 346.1C520.6 349.1 515.9 350.2 514.5 351.0 M536.1 322.8C536.7 325.6 537.8 335.5 539.4 339.4C541.1 343.3 543.3 345.5 546.1 346.1C548.8 346.6 554.4 343.3 556.0 342.7 M514.5 351.0C514.8 353.0 515.4 359.1 516.2 362.7C517.0 366.3 517.6 371.5 519.5 372.6C521.4 373.7 525.6 368.7 527.8 369.3C530.0 369.8 532.5 373.2 532.8 375.9C533.1 378.7 530.6 382.6 529.5 385.9C528.4 389.2 526.7 394.2 526.1 395.9 M356.0 125.1C354.9 124.0 353.4 125.1 351.8 123.8C350.2 122.5 347.9 119.9 346.4 117.4C345.0 114.9 343.9 111.7 343.2 108.9C342.5 106.0 341.6 102.7 342.2 100.4C342.7 98.1 345.4 97.0 346.4 95.0C347.5 93.1 347.3 90.1 348.6 88.7C349.8 87.2 353.5 87.2 353.9 86.5C354.2 85.8 351.4 85.6 350.7 84.4C350.0 83.2 350.5 81.0 349.6 79.1C348.7 77.1 347.5 74.3 345.4 72.7C343.2 71.1 340.4 70.4 336.8 69.5C333.3 68.6 326.4 68.4 324.1 67.4C321.8 66.3 322.3 64.2 323.0 63.1C323.7 62.0 325.3 62.0 328.3 61.0C331.3 59.9 336.8 58.0 341.1 56.7C345.4 55.5 349.3 54.6 353.9 53.5C358.5 52.5 364.2 50.9 368.8 50.3C373.4 49.8 377.0 50.5 381.6 50.3C386.2 50.1 391.9 49.6 396.5 49.3C401.1 48.9 405.0 48.5 409.3 48.2C413.5 47.8 417.4 47.1 422.0 47.1C426.6 47.1 432.0 47.7 436.9 48.2C441.9 48.7 446.7 49.8 451.8 50.3C457.0 50.9 466.4 50.5 467.8 51.4C469.2 52.3 463.4 54.1 460.4 55.6C457.3 57.2 452.2 59.4 449.7 61.0C447.2 62.6 446.5 63.3 445.5 65.2C444.4 67.2 444.7 70.6 443.3 72.7C441.9 74.8 439.4 76.8 436.9 78.0C434.4 79.2 429.3 78.9 428.4 80.1C427.5 81.4 432.0 84.2 431.6 85.5C431.3 86.7 428.6 86.3 426.3 87.6C424.0 88.8 421.3 91.5 417.8 92.9C414.2 94.3 408.9 94.7 405.0 96.1C401.1 97.5 397.9 99.8 394.3 101.4C390.8 103.0 386.9 104.6 383.7 105.7C380.5 106.8 377.5 106.2 375.2 107.8C372.9 109.4 371.5 113.0 369.9 115.3C368.3 117.6 367.2 120.0 365.6 121.7C364.0 123.3 361.5 123.6 360.3 125.1C359.0 126.5 358.9 130.2 358.1 130.2C357.4 130.2 357.1 126.1 356.0 125.1 M290.0 53.5C292.1 53.3 298.5 52.8 302.8 52.5C307.0 52.1 310.6 51.7 315.6 51.4C320.5 51.0 326.6 50.7 332.6 50.3C338.6 50.0 349.6 48.9 351.8 49.3C353.9 49.6 348.6 51.4 345.4 52.5C342.2 53.5 336.5 54.8 332.6 55.6C328.7 56.5 325.5 56.9 321.9 57.8C318.4 58.7 315.2 59.6 311.3 61.0C307.4 62.4 302.1 65.6 298.5 66.3C295.0 67.0 291.4 65.4 290.0 65.2 M290.0 57.8C291.1 57.4 294.3 56.0 296.4 55.6C298.5 55.3 301.7 55.6 302.8 55.6 M290.0 76.9C291.4 78.0 295.7 81.6 298.5 83.3C301.4 85.1 304.9 85.6 307.0 87.6C309.2 89.5 309.7 92.9 311.3 95.0C312.9 97.2 316.6 98.4 316.6 100.4C316.6 102.3 313.2 106.4 311.3 106.8C309.3 107.1 307.0 102.1 304.9 102.5C302.8 102.9 300.3 106.8 298.5 108.9C296.7 111.0 295.7 114.6 294.3 115.3C292.8 116.0 290.7 113.5 290.0 113.1 M424.2 105.7C424.7 104.9 428.1 103.1 430.5 102.9C433.0 102.7 436.0 104.5 439.1 104.6C442.1 104.7 446.7 103.0 448.6 103.6C450.6 104.1 451.7 106.4 450.8 107.8C449.9 109.2 445.6 111.0 443.3 112.1C441.0 113.1 439.2 114.2 436.9 114.2C434.6 114.2 431.1 113.1 429.5 112.1C427.9 111.0 428.2 108.9 427.4 107.8C426.5 106.8 423.6 106.5 424.2 105.7"/>
</svg>

<div id="leftpanel"></div>
<div id="chart"></div>
<div class="grid" style="top:281px"></div>
<div class="grid" style="top:313px"></div>
<div class="grid" style="top:345px"></div>
<div class="grid" style="top:377px"></div>
<div class="grid" style="top:408px"></div>
<div class="grid" style="top:440px"></div>
<div class="grid" style="top:472px"></div>
<div class="bar" style="left:136px;top:397.5px;width:97px;height:75.5px;background:#33a3a3;"></div>
<div class="bar" style="left:331.7px;top:306px;width:95px;height:167px;background:#0581b3;"></div>

<div id="rightpanel"></div>
<div id="ring"></div>
<div id="disc"></div>

<svg id="logoicon" style="position:absolute;left:860px;top:32px;width:34px;height:32px" viewBox="860 32 34 32">
<circle cx="877" cy="48.8" r="11.5" fill="none" stroke="#566c82" stroke-width="3"/>
<path d="M864 60.8 L865.3 53 L870.5 58.6 Z" fill="#566c82"/>
<rect x="869.4" y="48.8" width="3.3" height="9.6" fill="#1fb4d6"/>
<rect x="875" y="45" width="3.3" height="14" fill="#1fb4d6"/>
<rect x="880.4" y="38.5" width="3.3" height="20.5" fill="#566c82"/>
</svg>

<h1 id="title" class="t" style="left:126.80px;width:718.6px;height:36.4px;top:13px;font:italic bold 36.4px/1 'Liberation Sans', sans-serif;color:#404040;"><span style="left:2.00px;letter-spacing:-0.671px">Interior</span> <span style="left:135.20px;letter-spacing:-1.023px">Folding</span> <span style="left:273.60px;transform:scaleX(0.9362);transform-origin:0 0">Door</span> <span style="left:366.00px;letter-spacing:0.902px">Market</span> <span style="left:499.90px;letter-spacing:-0.272px">2024</span> <span style="left:589.95px;transform:scaleX(0.9451);transform-origin:0 0">to</span> <span style="left:637.36px;transform:scaleX(0.9570);transform-origin:0 0">2032</span></h1>
<div id="sub1" class="t" style="left:138.80px;width:270.0px;height:16.8px;top:147px;font:normal normal 16.8px/1 'Liberation Sans', sans-serif;color:#2b2b2b;"><span style="left:2.00px;transform:scaleX(1.1092);transform-origin:0 0">Global</span> <span style="left:57.53px;transform:scaleX(1.0687);transform-origin:0 0">Market</span> <span style="left:117.30px;transform:scaleX(0.8078);transform-origin:0 0">Size,</span> <span style="left:155.10px;letter-spacing:-0.233px">2024</span> <span style="left:194.50px;transform:scaleX(1.1350);transform-origin:0 0">and</span> <span style="left:230.00px;letter-spacing:-0.333px">2032</span></div>
<div id="sub2" class="t" style="left:220.10px;width:106.9px;height:16.8px;top:171px;font:normal bold 16.8px/1 'Liberation Sans', sans-serif;color:#111;"><span style="left:2.00px;letter-spacing:0.267px">(USD</span> <span style="left:47.90px;letter-spacing:-0.181px">Billion)</span></div>
<div id="v1" class="t" style="left:168.20px;width:37.4px;height:16.6px;top:373px;font:normal normal 16.6px/1 'Liberation Sans', sans-serif;color:#333;"><span style="left:2.00px;letter-spacing:-0.223px">4.18</span></div>
<div id="v2" class="t" style="left:358.00px;width:37.3px;height:16.6px;top:285px;font:normal normal 16.6px/1 'Liberation Sans', sans-serif;color:#333;"><span style="left:2.00px;letter-spacing:-0.256px">6.32</span></div>
<div id="y1" class="t" style="left:168.30px;width:35.7px;height:14.6px;top:484px;font:normal normal 14.6px/1 'Liberation Sans', sans-serif;color:#48565f;"><span style="left:2.00px;transform:scaleX(0.9181);transform-origin:0 0">2024</span></div>
<div id="y2" class="t" style="left:362.70px;width:35.6px;height:14.6px;top:484px;font:normal normal 14.6px/1 'Liberation Sans', sans-serif;color:#48565f;"><span style="left:2.00px;transform:scaleX(0.9150);transform-origin:0 0">2032</span></div>
<div id="cagr1" class="t" style="left:588.20px;width:85.2px;height:28.6px;top:313px;font:normal bold 28.6px/1 'Liberation Sans', sans-serif;color:#fff;"><span style="left:1.05px;transform:scaleX(0.9480);transform-origin:0 0">CAGR</span></div>
<div id="cagr2" class="t" style="left:597.40px;width:67.3px;height:29.4px;top:345px;font:normal bold 29.4px/1 'Liberation Sans', sans-serif;color:#fff;"><span style="left:2.00px;transform:scaleX(0.9169);transform-origin:0 0">5.3%</span></div>
<div id="logo1" class="t" style="left:892.40px;width:77.0px;height:16.7px;top:37px;font:normal normal 16.7px/1 'Liberation Sans', sans-serif;color:#2db3d1;"><span style="left:2.00px;letter-spacing:-0.154px">Credence</span></div>
<div id="logo2" class="t" style="left:969.00px;width:73.5px;height:16.7px;top:37px;font:normal normal 16.7px/1 'Liberation Sans', sans-serif;color:#5c7288;"><span style="left:1.00px;letter-spacing:-0.377px">Research</span></div>
<div id="logo3" class="t" style="left:892.40px;width:149.4px;height:4.7px;top:56px;font:normal bold 4.7px/1 'Liberation Sans', sans-serif;color:#3f4953;"><span style="left:2.00px;letter-spacing:2.783px">Actionable</span> <span style="left:58.10px;letter-spacing:2.734px">Insights</span> <span style="left:100.90px;letter-spacing:2.907px">Delivered</span></div>
<h2 id="seg0" class="t" style="left:781.40px;width:169.5px;height:19.8px;top:173px;font:normal bold 19.8px/1 'Liberation Sans', sans-serif;color:#000;"><span style="left:1.00px;letter-spacing:0.404px">Market</span> <span style="left:73.50px;letter-spacing:-0.363px">Segments</span></h2>
<h3 id="h_op" class="t" style="left:783.60px;top:196px;font:normal bold 20.33px/1 'Liberation Serif', serif;color:#000;">Based on Operation Type:</h3>
<div id="li1" class="t" style="left:813.60px;top:231px;font:normal normal 20.33px/1 'Liberation Serif', serif;color:#111;">Manual Bifold Doors</div>
<div id="li2a" class="t" style="left:813.60px;top:261px;font:normal normal 20.33px/1 'Liberation Serif', serif;color:#111;">Motorized/Remote-</div>
<div id="li2b" class="t" style="left:813.60px;top:285px;font:normal normal 20.33px/1 'Liberation Serif', serif;color:#111;">Controlled Bifold Doors</div>
<h3 id="h_app" class="t" style="left:783.60px;top:314px;font:normal bold 20.33px/1 'Liberation Serif', serif;color:#000;">Based on Application:</h3>
<div id="li3" class="t" style="left:813.60px;top:349px;font:normal normal 20.33px/1 'Liberation Serif', serif;color:#111;">Residential</div>
<div id="li4" class="t" style="left:813.60px;top:378px;font:normal normal 20.33px/1 'Liberation Serif', serif;color:#111;">Commercial</div>
<h3 id="h_dist1" class="t" style="left:783.60px;top:407px;font:normal bold 20.33px/1 'Liberation Serif', serif;color:#000;">Based on Distribution</h3>
<h3 id="h_dist2" class="t" style="left:782.60px;top:433px;font:normal bold 20.33px/1 'Liberation Serif', serif;color:#000;">Channel:</h3>
<div id="li5" class="t" style="left:813.60px;top:469px;font:normal normal 20.33px/1 'Liberation Serif', serif;color:#111;">Direct sales</div>
<div id="li6" class="t" style="left:813.60px;top:498px;font:normal normal 20.33px/1 'Liberation Serif', serif;color:#111;">Indirect sales</div>
<span class="bul" style="top:227.70px">•</span>
<span class="bul" style="top:257.70px">•</span>
<span class="bul" style="top:345.50px">•</span>
<span class="bul" style="top:374.80px">•</span>
<span class="bul" style="top:465.00px">•</span>
<span class="bul" style="top:494.20px">•</span>
</body>
</html>
